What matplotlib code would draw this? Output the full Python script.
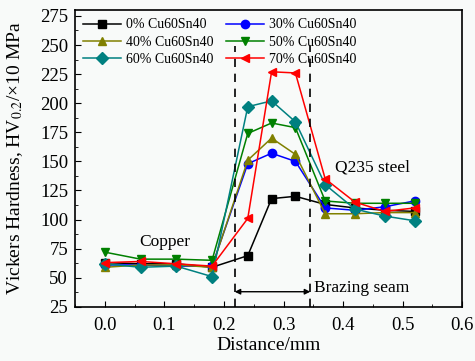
import numpy as np
import matplotlib
matplotlib.use('Agg')
import matplotlib.pyplot as plt
from matplotlib.ticker import MultipleLocator

plt.rcParams['font.family'] = ['Liberation Serif', 'DejaVu Serif']
plt.rcParams['mathtext.fontset'] = 'stix'

# distance from copper side, mm
distance = [0, 0.06, 0.12, 0.18, 0.24, 0.28, 0.32, 0.37, 0.42, 0.47, 0.52]

hv_0 = [63, 62, 62, 59, 69, 118, 120, 113, 110, 108, 107]
hv_30 = [61, 61, 60, 60, 148, 157, 150, 110, 108, 111, 116]
hv_40 = [59, 61, 61, 59, 151, 170, 156, 105, 105, 106, 106]
hv_50 = [72, 66, 66, 65, 174, 183, 179, 116, 114, 114, 114]
hv_60 = [62, 59, 60, 51, 197, 202, 184, 130, 109, 103, 99]
hv_70 = [63, 64, 62, 60, 101, 227, 226, 135, 115, 107, 110]

labels = ['0% Cu60Sn40', '30% Cu60Sn40', '40% Cu60Sn40',
          '50% Cu60Sn40', '60% Cu60Sn40', '70% Cu60Sn40']
series = [hv_0, hv_30, hv_40, hv_50, hv_60, hv_70]
colors = ['black', '#0000ff', '#808000', '#008000', '#008080', '#ff0000']
markers = ['s', 'o', '^', 'v', 'D', '<']

seam_left, seam_right = 0.218, 0.345

bg = '#f8faf9'
fig = plt.figure(figsize=(4.75, 3.61), dpi=100, facecolor=bg)
ax = fig.add_axes([0.158, 0.150, 0.815, 0.822], facecolor=bg)

handles = []
for y, lab, c, m in zip(series, labels, colors, markers):
    h, = ax.plot(distance, y, color=c, marker=m, markersize=6, linewidth=1.1, label=lab)
    handles.append(h)

# brazing seam boundaries
ax.axvline(seam_left, ymin=0, ymax=0.88, color='black', linestyle=(0, (5, 4)), linewidth=1.2)
ax.axvline(seam_right, ymin=0, ymax=0.88, color='black', linestyle=(0, (5, 4)), linewidth=1.2)
ax.annotate('', xy=(seam_left, 38), xytext=(seam_right, 38),
            arrowprops=dict(arrowstyle='<|-|>', color='black', lw=1, mutation_scale=8,
                            shrinkA=0, shrinkB=0))

ax.text(0.1, 81, 'Copper', fontsize=12.5, ha='center', va='center')
ax.text(0.45, 145, 'Q235 steel', fontsize=12.5, ha='center', va='center')
ax.text(0.352, 41, 'Brazing seam', fontsize=12.5, ha='left', va='center')

ax.set_xlim(-0.05, 0.6)
ax.set_ylim(25, 280)
ax.xaxis.set_major_locator(MultipleLocator(0.1))
ax.xaxis.set_minor_locator(MultipleLocator(0.05))
ax.yaxis.set_major_locator(MultipleLocator(25))
ax.yaxis.set_minor_locator(MultipleLocator(12.5))
ax.tick_params(which='both', direction='in', labelsize=13.5)
ax.tick_params(which='major', length=4)
ax.tick_params(which='minor', length=2)
ax.tick_params(axis='x', pad=7)
ax.tick_params(axis='y', pad=5)
for s in ax.spines.values():
    s.set_linewidth(1.2)

ax.set_xlabel('Distance/mm', fontsize=14)
ax.set_ylabel(r'Vickers Hardness, HV$_{0.2}$/×10 MPa', fontsize=14)
ax.yaxis.set_label_coords(-0.13, 0.5)
ax.xaxis.set_label_coords(0.5, -0.10)

# row-wise legend order: 0/30, 40/50, 60/70
order = [0, 2, 4, 1, 3, 5]
ax.legend([handles[i] for i in order], [labels[i] for i in order],
          loc='upper left', ncol=2, frameon=False, fontsize=10,
          handlelength=2.7, columnspacing=0.9, labelspacing=0.3,
          borderaxespad=0.2, handletextpad=0.4)

plt.savefig('out.png', dpi=100, facecolor=bg)
